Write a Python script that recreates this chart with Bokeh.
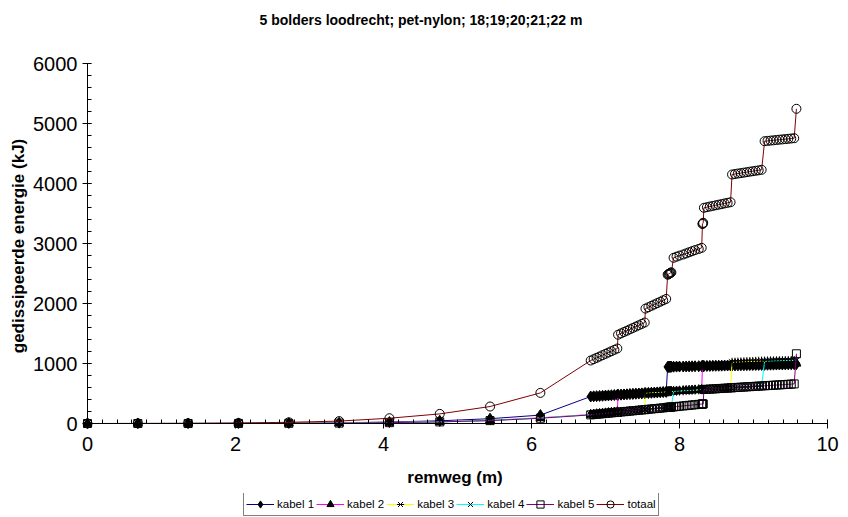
from bokeh.plotting import figure
from bokeh.layouts import column
from bokeh.models import (Range1d, Legend, LegendItem, SingleIntervalTicker,
                          FixedTicker, Title, LinearAxis)
from bokeh.embed import file_html
from bokeh.resources import INLINE

title_text = "5 bolders loodrecht; pet-nylon; 18;19;20;21;22 m"
x_label = "remweg (m)"
y_label = "gedissipeerde energie (kJ)"
series_names = ["kabel 1", "kabel 2", "kabel 3", "kabel 4", "kabel 5", "totaal"]

remweg = [0, 0.68, 1.36, 2.04, 2.72, 3.40, 4.08, 4.76, 5.44, 6.12,
          6.80, 6.84, 6.88, 6.92, 6.96, 7.00, 7.04, 7.08, 7.12, 7.16,
          7.17, 7.21, 7.25, 7.29, 7.33, 7.37, 7.41, 7.45, 7.49, 7.53,
          7.54, 7.58, 7.62, 7.66, 7.70, 7.74, 7.78, 7.82,
          7.84, 7.85, 7.86, 7.87, 7.88, 7.89,
          7.92, 7.96, 8.00, 8.05, 8.09, 8.13, 8.17, 8.21, 8.26, 8.30,
          8.31, 8.315, 8.32,
          8.33, 8.37, 8.41, 8.45, 8.49, 8.53, 8.57, 8.61, 8.65, 8.69,
          8.71, 8.75, 8.79, 8.83, 8.87, 8.91, 8.95, 8.99, 9.03, 9.07, 9.11,
          9.15, 9.19, 9.23, 9.27, 9.31, 9.35, 9.39, 9.43, 9.47, 9.51, 9.55,
          9.58]

kabel1 = [0, 0.3, 1, 2, 5, 11, 25, 45, 80, 140,
          450, 453, 456, 459, 462, 465, 468, 471, 474, 477,
          478, 481, 484, 487, 490, 493, 496, 499, 502, 505,
          506, 509, 512, 515, 518, 521, 524, 527,
          943, 944, 944, 945, 945, 946,
          947, 948, 949, 950, 951, 952, 953, 954, 955, 956,
          957, 957, 957,
          958, 959, 960, 961, 962, 963, 964, 965, 966, 967,
          967, 968, 969, 970, 971, 972, 973, 974, 975, 976, 977,
          978, 979, 980, 981, 982, 983, 984, 985, 986, 987, 988,
          990]

kabel2 = [0, 0.2, 0.5, 1.5, 3.5, 7.5, 16, 29, 51, 95,
          150, 155, 160, 164, 169, 174, 179, 184, 188, 193,
          478, 481, 484, 487, 490, 493, 496, 499, 502, 505,
          506, 509, 512, 515, 518, 521, 524, 527,
          529, 529, 530, 531, 532, 533,
          535, 538, 541, 545, 548, 551, 554, 557, 561, 564,
          953, 954, 955,
          955, 956, 957, 958, 959, 960, 961, 962, 963, 964,
          965, 966, 967, 968, 969, 970, 971, 972, 973, 974, 975,
          976, 978, 980, 982, 984, 986, 988, 990, 992, 994, 996,
          1000]

kabel3 = [0, 0.2, 0.5, 1.2, 3, 7, 15, 28, 50, 92,
          148, 153, 158, 162, 167, 172, 177, 181, 186, 191,
          192, 197, 201, 206, 211, 216, 220, 225, 230, 235,
          506, 509, 512, 515, 518, 521, 524, 527,
          529, 529, 530, 531, 532, 533,
          535, 538, 541, 545, 548, 551, 554, 557, 561, 564,
          565, 565, 566,
          567, 570, 573, 576, 579, 582, 585, 588, 591, 594,
          1020, 1022, 1024, 1026, 1028, 1030, 1032, 1034, 1036, 1038, 1040,
          1041, 1042, 1043, 1044, 1045, 1046, 1047, 1048, 1049, 1050, 1051,
          1052]

kabel4 = [0, 0.2, 0.5, 1.2, 3, 7, 15, 28, 50, 90,
          146, 151, 156, 160, 165, 170, 175, 179, 184, 189,
          190, 195, 199, 204, 209, 214, 218, 223, 228, 233,
          234, 239, 244, 249, 253, 258, 263, 268,
          270, 271, 272, 273, 275, 276,
          535, 538, 541, 545, 548, 551, 554, 557, 561, 564,
          565, 565, 566,
          567, 570, 573, 576, 579, 582, 585, 588, 591, 594,
          596, 599, 602, 605, 608, 611, 614, 617, 620, 623, 626,
          1035, 1037, 1039, 1041, 1043, 1045, 1047, 1049, 1051, 1053, 1055,
          1058]

kabel5 = [0, 0.2, 0.5, 1.1, 3, 7, 14, 27, 48, 88,
          144, 149, 154, 158, 163, 168, 173, 177, 182, 187,
          188, 193, 197, 202, 207, 212, 216, 221, 226, 231,
          232, 237, 242, 247, 251, 256, 261, 266,
          268, 269, 270, 271, 273, 274,
          277, 282, 287, 293, 298, 303, 308, 313, 319, 324,
          325, 325, 326,
          567, 570, 573, 576, 579, 582, 585, 588, 591, 594,
          596, 599, 602, 605, 608, 611, 614, 617, 620, 623, 626,
          629, 632, 635, 638, 641, 644, 647, 650, 653, 656, 660,
          1162]

totaal = [0, 1, 3, 8, 20, 40, 88, 160, 283, 510,
          1050, 1072, 1094, 1116, 1139, 1161, 1183, 1205, 1228, 1250,
          1480, 1502, 1525, 1547, 1570, 1592, 1615, 1637, 1660, 1683,
          1915, 1938, 1961, 1984, 2007, 2030, 2053, 2076,
          2480, 2488, 2496, 2504, 2512, 2520,
          2762, 2780, 2798, 2817, 2835, 2854, 2872, 2890, 2909, 2928,
          3325, 3335, 3345,
          3595, 3605, 3616, 3626, 3637, 3647, 3657, 3668, 3678, 3688,
          4150, 4158, 4166, 4173, 4181, 4189, 4197, 4205, 4212, 4220, 4228,
          4705, 4710, 4715, 4720, 4725, 4730, 4735, 4740, 4745, 4750, 4755,
          5245]

FONT = "Liberation Sans"
line_colors = ["#000080", "#FF00FF", "#FFFF00", "#00FFFF", "#800080", "#800000"]
data = [kabel1, kabel2, kabel3, kabel4, kabel5, totaal]


def add_series(fig, i, xs, ys, col):
    rs = [fig.line(xs, ys, line_color=col, line_width=1)]
    if i == 0:
        rs.append(fig.scatter(xs, ys, marker="diamond", size=11,
                              fill_color="black", line_color="black"))
    elif i == 1:
        rs.append(fig.scatter(xs, ys, marker="triangle", size=9,
                              fill_color="black", line_color="black"))
    elif i == 2:
        rs.append(fig.scatter(xs, ys, marker="x", size=9,
                              line_color="black", line_width=1))
        rs.append(fig.scatter(xs, ys, marker="dash", size=9, angle=1.5708,
                              line_color="black", line_width=1))
    elif i == 3:
        rs.append(fig.scatter(xs, ys, marker="x", size=9,
                              line_color="black", line_width=1))
    elif i == 4:
        rs.append(fig.scatter(xs, ys, marker="square", size=8,
                              fill_color="white", fill_alpha=0.0, line_color="black"))
    else:
        rs.append(fig.scatter(xs, ys, marker="circle", size=9,
                              fill_color="white", fill_alpha=0.0, line_color="black"))
    return rs


# ---------------- main chart ----------------
# frame reaches 5 px past the axes so markers sitting on them are not cut
p = figure(width=848, height=493, output_backend="svg", toolbar_location=None,
           title=None, x_axis_location=None, y_axis_location=None,
           x_range=Range1d(-0.0676, 10), y_range=Range1d(-83.3, 6000),
           min_border_left=82, min_border_right=21, min_border_top=63,
           min_border_bottom=65, background_fill_color="white",
           border_fill_color="white")
p.outline_line_color = None
p.grid.visible = False

p.add_layout(Title(text=" ", text_font_size="10px", standoff=23), "above")
p.add_layout(Title(text=title_text, align="left", offset=177, text_font=FONT,
                   text_font_size="14px", text_font_style="bold",
                   text_color="black", standoff=0), "above")

# axis lines with the small inward ticks, placed exactly at zero (no labels)
x_minor = FixedTicker(ticks=[], minor_ticks=[k / 5 for k in range(51)])
y_minor = FixedTicker(ticks=[], minor_ticks=[200 * k for k in range(31)])
line_kw = dict(axis_line_color="black", minor_tick_line_color="black",
               major_tick_line_color=None, major_tick_in=0, major_tick_out=0,
               minor_tick_in=4, minor_tick_out=0, major_label_standoff=0)
p.add_layout(LinearAxis(ticker=x_minor, fixed_location=0, bounds=(0, 10), **line_kw),
             "below")
p.add_layout(LinearAxis(ticker=y_minor, fixed_location=0, bounds=(0, 6000), **line_kw),
             "left")

# major (crossing) ticks, tick labels and axis titles at the frame edge
label_kw = dict(axis_line_color=None, major_tick_line_color="black",
                minor_tick_line_color=None, major_tick_in=9, major_tick_out=0,
                minor_tick_in=0, minor_tick_out=0,
                major_label_text_font=FONT, major_label_text_font_size="20px",
                major_label_text_color="black",
                axis_label_text_font=FONT, axis_label_text_font_size="17px",
                axis_label_text_font_style="bold", axis_label_text_color="black")
p.add_layout(LinearAxis(ticker=SingleIntervalTicker(interval=2), axis_label=x_label,
                        major_label_standoff=8, axis_label_standoff=14, **label_kw),
             "below")
p.add_layout(LinearAxis(ticker=SingleIntervalTicker(interval=1000), axis_label=y_label,
                        major_label_standoff=5, axis_label_standoff=2, **label_kw),
             "left")

for i, (ys, col) in enumerate(zip(data, line_colors)):
    add_series(p, i, remweg, ys, col)

# ---------------- legend strip ----------------
# same series, drawn outside this strip's visible range; only the legend shows
lg = figure(width=848, height=24, output_backend="svg", toolbar_location=None,
            title=None, x_axis_type=None, y_axis_type=None,
            x_range=Range1d(-2, -1), y_range=Range1d(-2, -1),
            min_border=0, background_fill_color="white",
            border_fill_color="white")
lg.outline_line_color = None
lg.grid.visible = False

items = []
for i, (name, ys, col) in enumerate(zip(series_names, data, line_colors)):
    rs = add_series(lg, i, remweg, ys, col)
    items.append(LegendItem(label=name, renderers=rs))

legend = Legend(items=items, orientation="horizontal", location=(161, 1),
                label_text_font=FONT, label_text_font_size="11.5px",
                label_text_color="black",
                glyph_width=28, glyph_height=18, label_standoff=3,
                spacing=2, padding=2, margin=0, label_height=12,
                border_line_color="black", border_line_width=1,
                background_fill_color="white", background_fill_alpha=1.0)
lg.add_layout(legend, "center")

layout = column(p, lg, spacing=0)
open("out.html", "w").write(file_html(layout, INLINE))
